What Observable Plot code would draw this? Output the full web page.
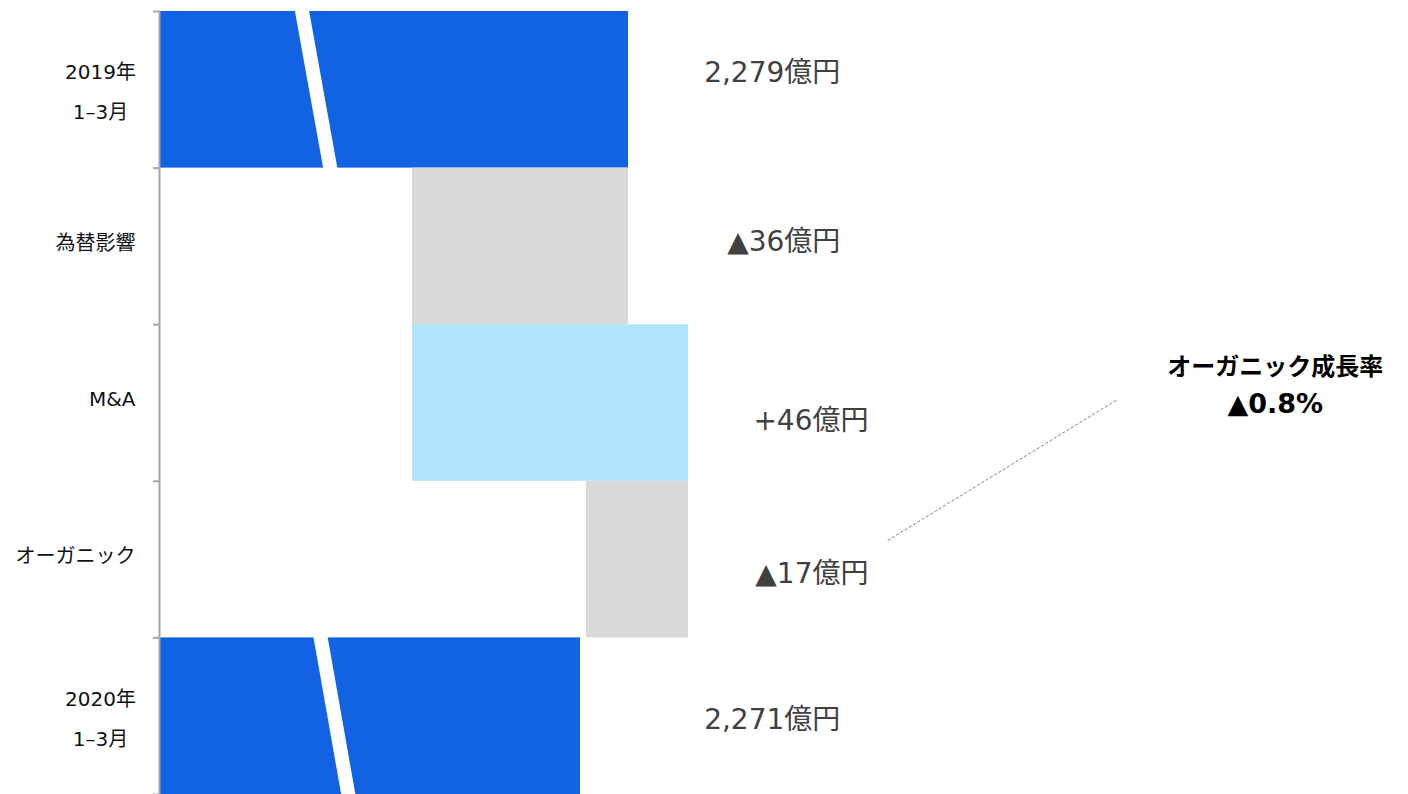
<!DOCTYPE html>
<html>
<head>
<meta charset="utf-8">
<script src="https://cdn.jsdelivr.net/npm/d3@7"></script>
<script src="https://cdn.jsdelivr.net/npm/@observablehq/plot@0.6"></script>
<style>
  html, body { margin: 0; padding: 0; background: #fff; }
  #chart svg { display: block; }
</style>
</head>
<body>
<div id="chart"></div>
<script>
// ---- data ----
const categories = ["2019年\n1–3月", "為替影響", "M&A", "オーガニック", "2020年\n1–3月"];
const values = [2279, -36, 46, -17, 2271];
const kinds = ["total", "delta", "delta", "delta", "total"];
const valueLabels = ["2,279億円", "▲36億円", "+46億円", "▲17億円", "2,271億円"];
// axis-break slashes on the two total bars (value at top edge, value at bottom edge)
const breakRows = [0, 4];
const breakTop = [2224.6, 2227.7];
const breakBottom = [2229.3, 2232.3];
const annotationTitle = "オーガニック成長率";
const annotationValue = "▲0.8%";

// ---- layout ----
const W = 1408, H = 794;
const xMin = 2201, xMax = 2409;
const colors = {total: "#1263E4", down: "#D9D9D9", up: "#AEE4FD"};
const FONT = "'DejaVu Sans', 'Noto Sans CJK JP', sans-serif";

// build waterfall rows
let running = 0;
const rows = categories.map((c, i) => {
  let x1, x2, fill;
  if (kinds[i] === "total") {
    x1 = 0; x2 = values[i]; running = values[i]; fill = colors.total;
  } else {
    const start = running; running = running + values[i];
    x1 = Math.min(start, running); x2 = Math.max(start, running);
    fill = values[i] < 0 ? colors.down : colors.up;
  }
  return {i, cat: c, x1, x2, fill, label: valueLabels[i]};
});
const breaks = breakRows.map((r, k) => ({r, top: breakTop[k], bottom: breakBottom[k]}));

// label placement (layout, not data)
const labelEndX = [2314.3, 2314.3, 2319, 2319, 2314.3];
const labelY = [0.396, 1.469, 2.612, 3.589, 4.527];

const twoLine = rows.filter(d => d.cat.includes("\n"));
const oneLine = rows.filter(d => !d.cat.includes("\n"));

const chart = Plot.plot({
  width: W,
  height: H,
  marginLeft: 160,
  marginRight: 0,
  marginTop: 11,
  marginBottom: 0,
  style: {fontFamily: FONT, background: "#fff"},
  x: {domain: [xMin, xMax], axis: null},
  y: {domain: [0, 5], reverse: true, axis: null},
  marks: [
    Plot.rect(rows, {x1: "x1", x2: "x2", y1: d => d.i, y2: d => d.i + 1, fill: "fill", clip: true}),
    Plot.link(breaks, {
      x1: "top", y1: d => d.r, x2: "bottom", y2: d => d.r + 1,
      stroke: "#fff", strokeWidth: 14, strokeLinecap: "square", clip: true
    }),
    Plot.ruleX([xMin], {y1: 0, y2: 5, stroke: "#A6A6A6", strokeWidth: 2, dx: -1}),
    Plot.axisY({ticks: [0, 1, 2, 3, 4, 5], tickSize: 7, tickFormat: () => "", stroke: "#A6A6A6", strokeWidth: 2, anchor: "left"}),
    Plot.text(oneLine, {
      x: xMin, y: d => d.i + 0.48, text: "cat", textAnchor: "end", dx: -25,
      fontSize: 20, fill: "#111"
    }),
    Plot.text(twoLine, {
      x: xMin, y: d => d.i + 0.48, text: "cat", textAnchor: "middle", dx: -60,
      fontSize: 20, lineHeight: 2.0, fill: "#111"
    }),
    Plot.text(rows, {
      x: d => labelEndX[d.i], y: d => labelY[d.i], text: "label", textAnchor: "end",
      fontSize: 28, fill: "#404040"
    }),
    Plot.link([{x1: 2322.2, y1: 3.378, x2: 2360.5, y2: 2.478}], {
      x1: "x1", y1: "y1", x2: "x2", y2: "y2",
      stroke: "#808080", strokeWidth: 1, strokeDasharray: "3,2"
    }),
    Plot.text([annotationTitle], {
      x: 2386.8, y: 2.27, text: d => d, textAnchor: "middle",
      fontSize: 24, fontWeight: "bold", fill: "#000",
      fontFamily: "'Noto Sans CJK JP', sans-serif"
    }),
    Plot.text([annotationValue], {
      x: 2386.8, y: 2.51, text: d => d, textAnchor: "middle",
      fontSize: 27, fontWeight: "bold", fill: "#000",
      fontFamily: "'DejaVu Sans', sans-serif"
    })
  ]
});
document.getElementById("chart").appendChild(chart);
</script>
</body>
</html>
